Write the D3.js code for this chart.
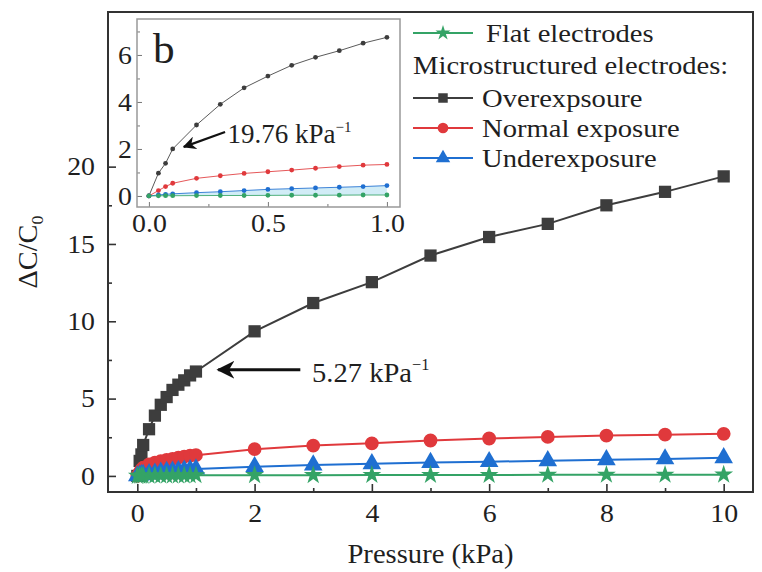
<!DOCTYPE html>
<html><head><meta charset="utf-8">
<script src="https://cdn.jsdelivr.net/npm/d3@7"></script>
<style>
body{margin:0;background:#fff}
text{font-family:"Liberation Serif","Times New Roman",serif;fill:#1f1f1f}
</style>
</head><body>
<svg id="c" width="762" height="572"></svg>
<script>
// ---------- data ----------
const pressure = [0, 0.04, 0.07, 0.1, 0.2, 0.3, 0.4, 0.5, 0.6, 0.7, 0.8, 0.9, 1.0, 2, 3, 4, 5, 6, 7, 8, 9, 10];
const overexposure = [0, 0.97, 1.39, 2.0, 3.02, 3.9, 4.6, 5.1, 5.56, 5.9, 6.18, 6.5, 6.75, 9.35, 11.18, 12.53, 14.25, 15.45, 16.3, 17.5, 18.37, 19.37];
const normalExposure = [0, 0.23, 0.4, 0.54, 0.75, 0.86, 0.96, 1.03, 1.1, 1.18, 1.25, 1.31, 1.34, 1.73, 1.96, 2.11, 2.29, 2.42, 2.52, 2.61, 2.67, 2.72];
const underexposure = [0, 0.04, 0.07, 0.09, 0.14, 0.18, 0.23, 0.28, 0.31, 0.34, 0.37, 0.40, 0.44, 0.6, 0.7, 0.78, 0.86, 0.92, 0.98, 1.04, 1.1, 1.17];
const flatElectrodes = [0, 0.005, 0.01, 0.01, 0.015, 0.02, 0.02, 0.025, 0.03, 0.03, 0.035, 0.04, 0.04, 0.05, 0.05, 0.06, 0.06, 0.06, 0.07, 0.07, 0.07, 0.08];

const xTicks = [0, 2, 4, 6, 8, 10];
const xMinor = [1, 3, 5, 7, 9];
const yTicks = [0, 5, 10, 15, 20];
const yMinor = [2.5, 7.5, 12.5, 17.5];
const insetXTicks = [0, 0.5, 1.0];
const insetXMinor = [0.25, 0.75];
const insetYTicks = [0, 2, 4, 6];
const insetYMinor = [1, 3, 5, 7];

const seriesNames = ["Overexpsoure", "Normal exposure", "Underexposure", "Flat electrodes"];
const seriesColors = ["#3d3d3d", "#e0393c", "#1f6fd1", "#34a366"];
const seriesSymbols = [d3.symbolSquare, d3.symbolCircle, d3.symbolTriangle, d3.symbolStar];
const seriesValues = [overexposure, normalExposure, underexposure, flatElectrodes];

// ---------- setup ----------
const svg = d3.select("#c");
function stretch(sel, k) {
  sel.each(function () {
    const L = this.getComputedTextLength();
    d3.select(this).attr("textLength", L * k).attr("lengthAdjust", "spacingAndGlyphs");
  });
}

const F = { l: 108, t: 12, r: 753, b: 492 };
const x = d3.scaleLinear().domain([-0.5, 10.5]).range([F.l, F.r]);
const y = d3.scaleLinear().domain([-1.04, 30]).range([F.b, F.t]);

const series = seriesNames.map((n, i) => ({
  name: n, color: seriesColors[i], symbol: seriesSymbols[i],
  pts: pressure.map((p, j) => ({ p, v: seriesValues[i][j] }))
}));

// ---------- main axes ----------
function styleAxis(g, fs) {
  g.select(".domain").remove();
  g.selectAll("line").attr("stroke", "#333").attr("stroke-width", 1.6);
  g.selectAll("text").attr("font-size", fs).attr("fill", "#1f1f1f")
    .attr("font-family", '"Liberation Serif","Times New Roman",serif');
}
const TF = 26, TK = 1.07;
const gx = svg.append("g").attr("transform", `translate(0,${F.b})`)
  .call(d3.axisBottom(x).tickValues(xTicks).tickSize(-8).tickPadding(12).tickFormat(d3.format("d")));
styleAxis(gx, TF); stretch(gx.selectAll("text"), TK);
const gxm = svg.append("g").attr("transform", `translate(0,${F.b})`)
  .call(d3.axisBottom(x).tickValues(xMinor).tickSize(-4).tickFormat(""));
styleAxis(gxm, TF);
const gy = svg.append("g").attr("transform", `translate(${F.l},0)`)
  .call(d3.axisLeft(y).tickValues(yTicks).tickSize(-8).tickPadding(13).tickFormat(d3.format("d")));
styleAxis(gy, TF); stretch(gy.selectAll("text"), TK);
const gym = svg.append("g").attr("transform", `translate(${F.l},0)`)
  .call(d3.axisLeft(y).tickValues(yMinor).tickSize(-4).tickFormat(""));
styleAxis(gym, TF);

// ---------- main series ----------
const line = d3.line().x(d => x(d.p)).y(d => y(d.v));
const mainSizes = [150, 150, 150, 110];
series.forEach((s, i) => {
  const g = svg.append("g");
  g.append("path").datum(s.pts).attr("d", line).attr("fill", "none")
    .attr("stroke", s.color).attr("stroke-width", 2);
  g.selectAll("path.m").data(s.pts).join("path").attr("class", "m")
    .attr("transform", d => `translate(${x(d.p)},${y(d.v)})`)
    .attr("d", d3.symbol().type(s.symbol).size(mainSizes[i]))
    .attr("fill", s.color);
});

// frame
svg.append("rect").attr("x", F.l).attr("y", F.t).attr("width", F.r - F.l).attr("height", F.b - F.t)
  .attr("fill", "none").attr("stroke", "#333").attr("stroke-width", 2);

// axis titles
const xt = svg.append("text").attr("x", (F.l + F.r) / 2).attr("y", 563)
  .attr("text-anchor", "middle").attr("font-size", 27).text("Pressure (kPa)");
stretch(xt, 1.06);
const yt = svg.append("text").attr("transform", `translate(37,252) rotate(-90)`)
  .attr("text-anchor", "middle").attr("font-size", 27);
yt.append("tspan").text("ΔC/C");
yt.append("tspan").attr("font-size", 17).attr("dy", 6).text("0");
stretch(yt, 1.05);

// main annotation
const defs = svg.append("defs");
defs.append("marker").attr("id", "ah").attr("viewBox", "0 0 10 10").attr("refX", 9).attr("refY", 5)
  .attr("markerWidth", 6).attr("markerHeight", 6).attr("markerUnits", "strokeWidth").attr("orient", "auto")
  .append("path").attr("d", "M0,0 L10,5 L0,10 L3,5 Z").attr("fill", "#111");
svg.append("line").attr("x1", x(2.78)).attr("y1", y(6.86)).attr("x2", x(1.38)).attr("y2", y(6.86))
  .attr("stroke", "#111").attr("stroke-width", 3).attr("marker-end", "url(#ah)");
const at = svg.append("text").attr("x", x(2.98)).attr("y", y(6.08)).attr("font-size", 28);
at.append("tspan").text("5.27 kPa");
at.append("tspan").attr("font-size", 16).attr("dy", -12).text("−1");
stretch(at, 1.02);

// ---------- inset ----------
const I = { l: 137, t: 19, r: 400, b: 207 };
const xi = d3.scaleLinear().domain([-0.05, 1.055]).range([I.l, I.r]);
const yi = d3.scaleLinear().domain([-0.47, 7.53]).range([I.b, I.t]);
svg.append("rect").attr("x", I.l).attr("y", I.t).attr("width", I.r - I.l).attr("height", I.b - I.t)
  .attr("fill", "#fff").attr("stroke", "none");

const gix = svg.append("g").attr("transform", `translate(0,${I.b})`)
  .call(d3.axisBottom(xi).tickValues(insetXTicks).tickSize(-5).tickPadding(7).tickFormat(d3.format(".1f")));
styleAxis(gix, TF); gix.selectAll("line").attr("stroke", "#777").attr("stroke-width", 1);
stretch(gix.selectAll("text"), TK);
const gixm = svg.append("g").attr("transform", `translate(0,${I.b})`)
  .call(d3.axisBottom(xi).tickValues(insetXMinor).tickSize(-3).tickFormat(""));
styleAxis(gixm, TF); gixm.selectAll("line").attr("stroke", "#777").attr("stroke-width", 1);
const giy = svg.append("g").attr("transform", `translate(${I.l},0)`)
  .call(d3.axisLeft(yi).tickValues(insetYTicks).tickSize(-5).tickPadding(5).tickFormat(d3.format("d")));
styleAxis(giy, TF); giy.selectAll("line").attr("stroke", "#777").attr("stroke-width", 1);
stretch(giy.selectAll("text"), TK);
const giym = svg.append("g").attr("transform", `translate(${I.l},0)`)
  .call(d3.axisLeft(yi).tickValues(insetYMinor).tickSize(-3).tickFormat(""));
styleAxis(giym, TF); giym.selectAll("line").attr("stroke", "#777").attr("stroke-width", 1);

// band between underexposure and flat
const insetPts = pressure.map((p, j) => ({ p, hi: underexposure[j], lo: flatElectrodes[j] })).filter(d => d.p <= 1);
svg.append("path").datum(insetPts)
  .attr("d", d3.area().x(d => xi(d.p)).y0(d => yi(d.lo)).y1(d => yi(d.hi)))
  .attr("fill", "#7cc8e6").attr("opacity", 0.35);

const iline = d3.line().x(d => xi(d.p)).y(d => yi(d.v));
series.forEach((s) => {
  const pts = s.pts.filter(d => d.p <= 1);
  const g = svg.append("g");
  g.append("path").datum(pts).attr("d", iline).attr("fill", "none")
    .attr("stroke", s.color).attr("stroke-width", 1).attr("opacity", 0.85);
  g.selectAll("circle").data(pts).join("circle")
    .attr("cx", d => xi(d.p)).attr("cy", d => yi(d.v)).attr("r", 2.4).attr("fill", s.color);
});
svg.append("rect").attr("x", I.l).attr("y", I.t).attr("width", I.r - I.l).attr("height", I.b - I.t)
  .attr("fill", "none").attr("stroke", "#999").attr("stroke-width", 1.5);

const bl = svg.append("text").attr("x", 153).attr("y", 63).attr("font-size", 42).text("b");
stretch(bl, 1.03);
svg.append("line").attr("x1", xi(0.32)).attr("y1", yi(2.72)).attr("x2", xi(0.147)).attr("y2", yi(2.09))
  .attr("stroke", "#111").attr("stroke-width", 2.2).attr("marker-end", "url(#ah)");
const it = svg.append("text").attr("x", xi(0.33)).attr("y", yi(2.26)).attr("font-size", 27);
it.append("tspan").text("19.76 kPa");
it.append("tspan").attr("font-size", 15).attr("dy", -11).text("−1");
stretch(it, 1.0);

// ---------- legend ----------
const leg = svg.append("g");
const LF = 26, LK = 1.1;
const legRows = [
  { s: series[3], y: 33 },
  { title: "Microstructured electrodes:", y: 65 },
  { s: series[0], y: 98 },
  { s: series[1], y: 128 },
  { s: series[2], y: 158 }
];
legRows.forEach(r => {
  if (r.title) {
    const t = leg.append("text").attr("x", 413).attr("y", r.y + 9).attr("font-size", LF).text(r.title);
    stretch(t, LK);
    return;
  }
  const idx = series.indexOf(r.s);
  leg.append("line").attr("x1", 413).attr("x2", 473).attr("y1", r.y).attr("y2", r.y)
    .attr("stroke", r.s.color).attr("stroke-width", 2);
  leg.append("path").attr("transform", `translate(443,${r.y})`)
    .attr("d", d3.symbol().type(r.s.symbol).size(idx === 3 ? 70 : 90)).attr("fill", r.s.color);
  const t = leg.append("text").attr("x", r.s === series[3] ? 486 : 482).attr("y", r.y + 9)
    .attr("font-size", LF).text(r.s.name);
  stretch(t, LK);
});
</script>
</body></html>
